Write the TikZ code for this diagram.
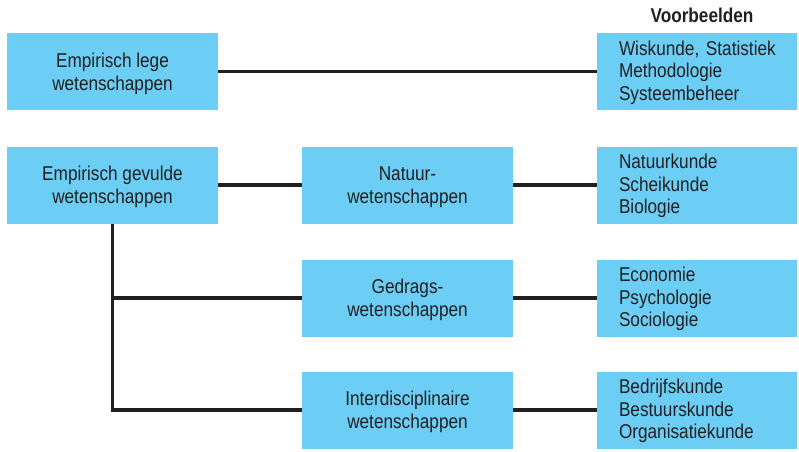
\documentclass[tikz,border=0pt]{standalone}
\usepackage{fontspec}
\setmainfont{Liberation Sans}[FakeStretch=0.86]
\usepackage{tikz}

\definecolor{boxblue}{HTML}{6DCEF5}
\definecolor{inkgrey}{HTML}{231F20}

\begin{document}
\begin{tikzpicture}[x=0.75pt, y=-0.75pt,
    kind/.style={fill=boxblue, minimum width=158.25pt, minimum height=57.75pt, align=center, inner sep=0pt, text depth=0pt, text=inkgrey, font=\fontsize{15}{17}\selectfont},
    examples/.style={fill=boxblue, minimum width=150pt, minimum height=57.75pt, text width=117pt, inner xsep=16.5pt, inner ysep=0pt, text height=10pt, text depth=34.75pt, align=left, text=inkgrey, font=\fontsize{15}{17}\selectfont},
    link/.style={draw=inkgrey, line width=2.3pt}]

            \useasboundingbox (0,0) rectangle (799,451);

            \node[font=\bfseries\fontsize{15}{17}\selectfont, text=inkgrey] (head) at (702,15) {Voorbeelden};

            \node[kind] (leeg) at (112.5,71.5) {Empirisch lege\\wetenschappen};
            \node[examples] (vleeg) at (697,71.5) {Wiskunde,~Statistiek\\Methodologie\\Systeembeheer};

            \node[kind] (gevuld) at (112.5,185) {Empirisch gevulde\\wetenschappen};
            \node[kind] (natuur) at (407.5,185) {Natuur-\\wetenschappen};
            \node[kind] (gedrag) at (407.5,298) {Gedrags-\\wetenschappen};
            \node[kind] (inter) at (407.5,410) {Interdisciplinaire\\wetenschappen};

            \node[examples] (vnatuur) at (697,185) {Natuurkunde\\Scheikunde\\Biologie};
            \node[examples] (vgedrag) at (697,298) {Economie\\Psychologie\\Sociologie};
            \node[examples] (vinter) at (697,410) {Bedrijfskunde\\Bestuurskunde\\Organisatiekunde};

            \draw[link] (leeg) -- (vleeg);
            \draw[link] (gevuld) -- (natuur);
            \draw[link] (natuur) -- (vnatuur);
            \draw[link] (gedrag) -- (vgedrag);
            \draw[link] (inter) -- (vinter);

            \draw[link, line join=miter] (gevuld.south) |- (inter.west);
            \draw[link] (gevuld.south |- gedrag.west) -- (gedrag.west);

        \end{tikzpicture}
\end{document}
